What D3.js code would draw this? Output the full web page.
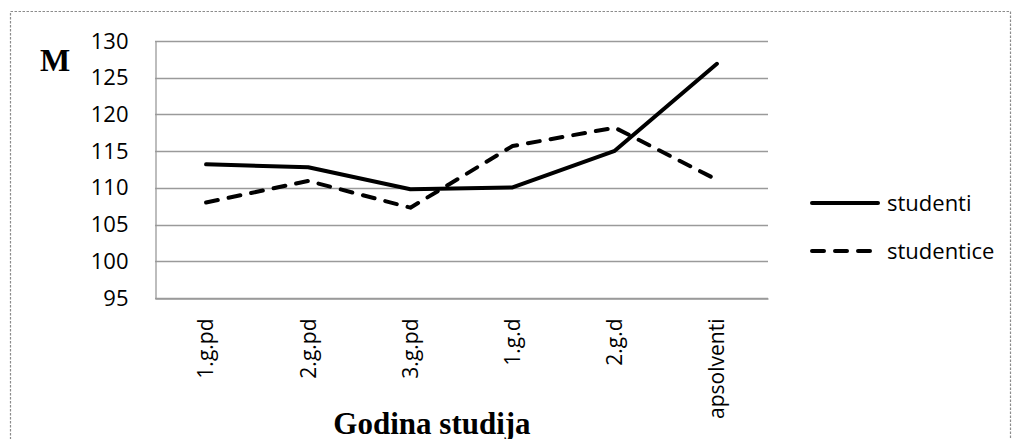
<!DOCTYPE html>
<html>
<head>
<meta charset="utf-8">
<script src="https://cdn.jsdelivr.net/npm/d3@7"></script>
<style>
  body { margin: 0; background: #fff; }
  svg { display: block; }
</style>
</head>
<body>
<div id="chart"></div>
<script>
const categories = ['1.g.pd', '2.g.pd', '3.g.pd', '1.g.d', '2.g.d', 'apsolventi'];
const studenti = [113.2, 112.8, 109.8, 110.05, 115.05, 126.9];
const studentice = [108.0, 110.95, 107.3, 115.7, 118.2, 111.1];
const yTicks = [95, 100, 105, 110, 115, 120, 125, 130];

const width = 1013, height = 439;
const plotLeft = 155, plotRight = 768, plotTop = 41, plotBottom = 298;
const sans = "'Open Sans', sans-serif";
const serif = "'Liberation Serif', 'Times New Roman', serif";

const svg = d3.select('#chart')
  .append('svg')
    .attr('width', width)
    .attr('height', height);

// dotted frame round the whole chart
svg.append('rect')
  .attr('x', 10.5)
  .attr('y', 11.5)
  .attr('width', 1000)
  .attr('height', 440)
  .attr('fill', 'none')
  .attr('stroke', '#8c8c8c')
  .attr('stroke-width', 1.2)
  .attr('stroke-dasharray', '2.5,1.5');

const x = d3.scaleBand().domain(categories).range([plotLeft, plotRight]);
const y = d3.scaleLinear().domain([95, 130]).range([plotBottom, plotTop]);

// gridlines
svg.append('g')
  .selectAll('line')
  .data(yTicks)
  .enter().append('line')
    .attr('x1', plotLeft)
    .attr('x2', plotRight)
    .attr('y1', d => Math.round(y(d)) + 0.5)
    .attr('y2', d => Math.round(y(d)) + 0.5)
    .attr('stroke', '#9a9a9a')
    .attr('stroke-width', 1.3);

// y axis
const yAxis = d3.axisLeft(y).tickValues(yTicks).tickSize(0).tickPadding(27);
svg.append('g')
  .attr('transform', `translate(${plotLeft + 0.5}, 0)`)
  .call(yAxis)
  .call(g => g.select('.domain').attr('stroke', '#9a9a9a').attr('stroke-width', 1.3))
  .call(g => g.selectAll('text')
    .attr('font-family', sans)
    .attr('font-size', 22)
    .attr('fill', '#000'));

// x axis
const xAxis = d3.axisBottom(x).tickSize(0).tickPadding(0);
svg.append('g')
  .attr('transform', `translate(0, ${Math.round(plotBottom) + 0.5})`)
  .call(xAxis)
  .call(g => g.select('.domain').attr('stroke', '#9a9a9a').attr('stroke-width', 1.3))
  .call(g => g.selectAll('text')
    .attr('font-family', sans)
    .attr('font-size', 21)
    .attr('fill', '#000')
    .attr('text-anchor', 'end')
    .attr('transform', 'translate(0, 20) rotate(-90)')
    .attr('x', 0)
    .attr('y', 0)
    .attr('dy', '0.35em'));

const line = d3.line()
  .x((d, i) => x(categories[i]) + x.bandwidth() / 2)
  .y(d => y(d));

svg.append('path')
  .datum(studenti)
  .attr('d', line)
  .attr('fill', 'none')
  .attr('stroke', '#000')
  .attr('stroke-width', 4)
  .attr('stroke-linejoin', 'round')
  .attr('stroke-linecap', 'round');

svg.append('path')
  .datum(studentice)
  .attr('d', line)
  .attr('fill', 'none')
  .attr('stroke', '#000')
  .attr('stroke-width', 4)
  .attr('stroke-linejoin', 'round')
  .attr('stroke-linecap', 'round')
  .attr('stroke-dasharray', '12,11');

// legend
const legend = [
  { name: 'studenti', dash: null },
  { name: 'studentice', dash: '12,11' }
];
const lg = svg.append('g')
  .selectAll('g')
  .data(legend)
  .enter().append('g')
    .attr('transform', (d, i) => `translate(812, ${203 + i * 48})`);

lg.append('line')
  .attr('x1', 0)
  .attr('x2', 66)
  .attr('stroke', '#000')
  .attr('stroke-width', 4)
  .attr('stroke-linecap', 'round')
  .attr('stroke-dasharray', d => d.dash);

lg.append('text')
  .attr('x', 75)
  .attr('dy', '0.35em')
  .attr('font-family', sans)
  .attr('font-size', 22)
  .text(d => d.name);

// axis titles
svg.append('text')
  .attr('x', 40)
  .attr('y', 71)
  .attr('font-family', serif)
  .attr('font-weight', 'bold')
  .attr('font-size', 32)
  .text('M');

svg.append('text')
  .attr('x', 432)
  .attr('y', 434)
  .attr('text-anchor', 'middle')
  .attr('font-family', serif)
  .attr('font-weight', 'bold')
  .attr('font-size', 31)
  .text('Godina studija');
</script>
</body>
</html>
